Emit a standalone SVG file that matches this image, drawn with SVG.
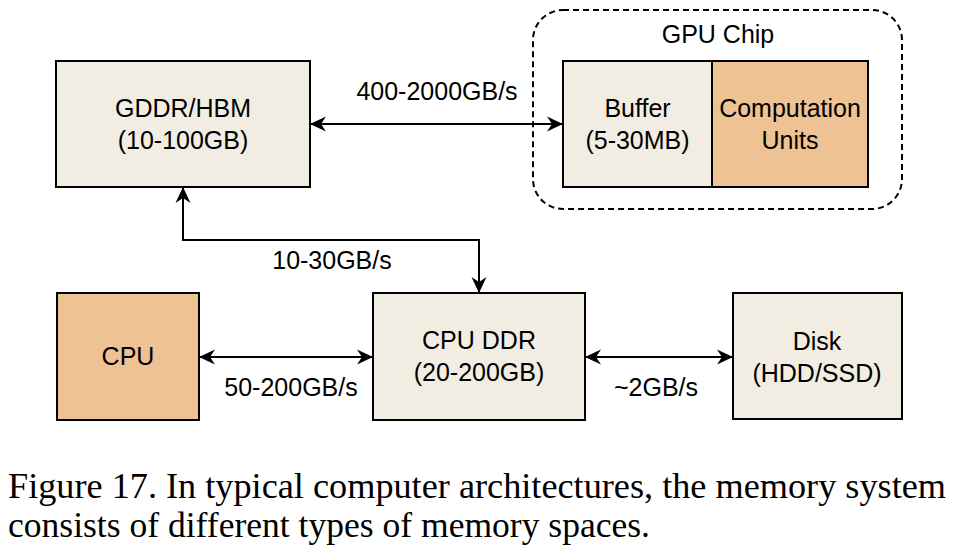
<svg xmlns="http://www.w3.org/2000/svg" width="956" height="552" viewBox="0 0 956 552">
<defs>
<style>
.box{stroke:#000;stroke-width:2}
.beige{fill:#f2ede3}
.orange{fill:#eec293}
.t{font-family:"Liberation Sans",Arial,sans-serif;font-size:25px;fill:#000;text-anchor:middle}
.cap{font-family:"Liberation Serif","Times New Roman",serif;font-size:36px;fill:#000}
.line{fill:none;stroke:#000;stroke-width:2}
</style>
<marker id="ah" viewBox="0 0 16 16" refX="15" refY="8" markerWidth="16" markerHeight="16" markerUnits="userSpaceOnUse" orient="auto-start-reverse">
<path d="M0,0.5 L16,8 L0,15.5 L5,8 Z" fill="#000"/>
</marker>
</defs>
<rect width="956" height="552" fill="#fff"/>
<g id="gpu-chip">
<rect x="533" y="10" width="369" height="199" rx="30" ry="30" fill="none" stroke="#000" stroke-width="2" stroke-dasharray="6,4"/>
<text class="t" x="718" y="43">GPU Chip</text>
</g>
<g id="gddr">
<rect class="box beige" x="56" y="61" width="254" height="126"/>
<text class="t" x="183" y="117">GDDR/HBM</text>
<text class="t" x="183" y="149">(10-100GB)</text>
</g>
<g id="buffer">
<rect class="box beige" x="563" y="61" width="149" height="126"/>
<text class="t" x="637.5" y="117">Buffer</text>
<text class="t" x="637.5" y="149">(5-30MB)</text>
</g>
<g id="compute">
<rect class="box orange" x="712" y="61" width="156" height="126"/>
<text class="t" x="790" y="117">Computation</text>
<text class="t" x="790" y="149">Units</text>
</g>
<g id="cpu">
<rect class="box orange" x="57" y="293" width="142" height="127"/>
<text class="t" x="128" y="365">CPU</text>
</g>
<g id="cpuddr">
<rect class="box beige" x="373" y="293" width="212" height="127"/>
<text class="t" x="479" y="349">CPU DDR</text>
<text class="t" x="479" y="381">(20-200GB)</text>
</g>
<g id="disk">
<rect class="box beige" x="733" y="293" width="169" height="126"/>
<text class="t" x="817" y="350">Disk</text>
<text class="t" x="817" y="382">(HDD/SSD)</text>
</g>
<g id="connectors">
<path class="line" d="M311,124 L562,124" marker-start="url(#ah)" marker-end="url(#ah)"/>
<path class="line" d="M183,188 L183,240 L479,240 L479,292" marker-start="url(#ah)" marker-end="url(#ah)"/>
<path class="line" d="M200,357 L372,357" marker-start="url(#ah)" marker-end="url(#ah)"/>
<path class="line" d="M586,357 L732,357" marker-start="url(#ah)" marker-end="url(#ah)"/>
<text class="t" x="437" y="100">400-2000GB/s</text>
<text class="t" x="332" y="269">10-30GB/s</text>
<text class="t" x="291" y="396">50-200GB/s</text>
<text class="t" x="656" y="396">~2GB/s</text>
</g>
<g id="caption">
<text class="cap" x="8" y="498" textLength="938" lengthAdjust="spacingAndGlyphs">Figure 17. In typical computer architectures, the memory system</text>
<text class="cap" x="8" y="537" textLength="642" lengthAdjust="spacingAndGlyphs">consists of different types of memory spaces.</text>
</g>
</svg>
